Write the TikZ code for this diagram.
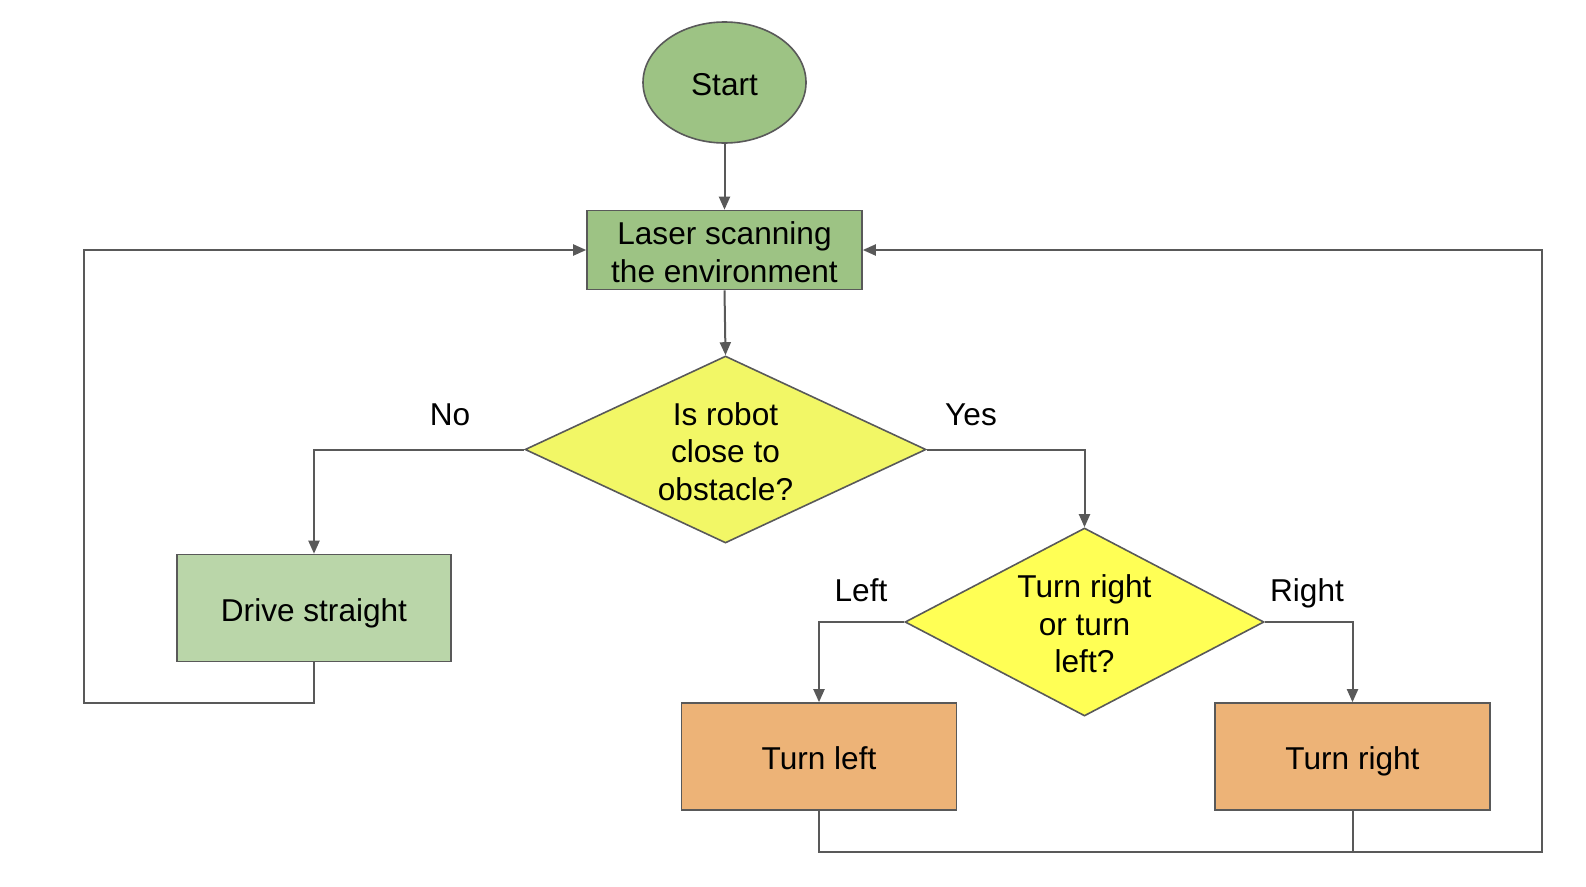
\documentclass[tikz,border=0pt]{standalone}
\usepackage{fontspec}
\setmainfont{Liberation Sans}
\usetikzlibrary{shapes.geometric,arrows.meta}
\definecolor{lgreen}{HTML}{9DC384}
\definecolor{pgreen}{HTML}{BAD6A9}
\definecolor{yel1}{HTML}{F2F766}
\definecolor{yel2}{HTML}{FFFF55}
\definecolor{orng}{HTML}{EDB377}
\definecolor{lineg}{HTML}{595959}
\newcommand{\lowr}{\rule{0pt}{27pt}}
\tikzset{
  every node/.style={font=\fontsize{31.6}{37.4}\selectfont, text=black},
  box/.style={draw=lineg, line width=1.6pt, rectangle, inner sep=0pt, align=center, minimum width=275pt},
  one/.style={text height=26pt, text depth=0pt},
  dia/.style={draw=lineg, line width=1.6pt, diamond, inner sep=0pt, align=center},
  conn/.style={draw=lineg, line width=2pt, -{Triangle[length=13pt,width=11pt]}},
  plain/.style={draw=lineg, line width=2pt},
  lab/.style={inner sep=0pt, text height=23pt, text depth=0pt}
}
\begin{document}
\begin{tikzpicture}[x=1pt,y=-1pt]
\useasboundingbox (0,0) rectangle (1586,886);
\node[draw=lineg, line width=1.6pt, ellipse, fill=lgreen, minimum width=163pt, minimum height=121pt, inner sep=0pt, one] (start) at (724.5,82.5) {Start};
\node[box, fill=lgreen, minimum height=79pt] (laser) at (724.5,250) {\lowr Laser scanning\\the environment};
\node[dia, fill=yel1, minimum width=401pt, minimum height=187pt, shape aspect=2.14] (d1) at (725.5,449.5) {\lowr Is robot\\close to\\obstacle?};
\node[box, one, fill=pgreen, minimum width=274pt, minimum height=107pt] (drive) at (314,608) {Drive straight};
\node[dia, fill=yel2, minimum width=359pt, minimum height=188pt, shape aspect=1.9] (d2) at (1084.5,622) {\lowr Turn right\\or turn\\left?};
\node[box, one, fill=orng, minimum height=107pt] (tl) at (819,756.5) {Turn left};
\node[box, one, fill=orng, minimum height=107pt] (tr) at (1352.5,756.5) {Turn right};
\node[lab] (no) at (450,413.5) {No};
\node[lab] (yes) at (971,413.5) {Yes};
\node[lab] (left) at (861,589.5) {Left};
\node[lab] (right) at (1307,589.5) {Right};
\coordinate (lb) at (84,703);
\coordinate (rb) at (1542,852);
\draw[conn] (start.south) -- (laser.north);
\draw[conn] (laser.south) -- (d1.north);
\draw[conn] (d1.west) -| (drive.north);
\draw[conn] (d1.east) -| (d2.north);
\draw[conn] (d2.west) -| (tl.north);
\draw[conn] (d2.east) -| (tr.north);
\draw[conn] (drive.south) |- (lb) |- (laser.west);
\draw[conn] (tl.south) |- (rb) |- (laser.east);
\draw[plain] (tr.south) -- (tr.south |- rb);
\end{tikzpicture}
\end{document}
